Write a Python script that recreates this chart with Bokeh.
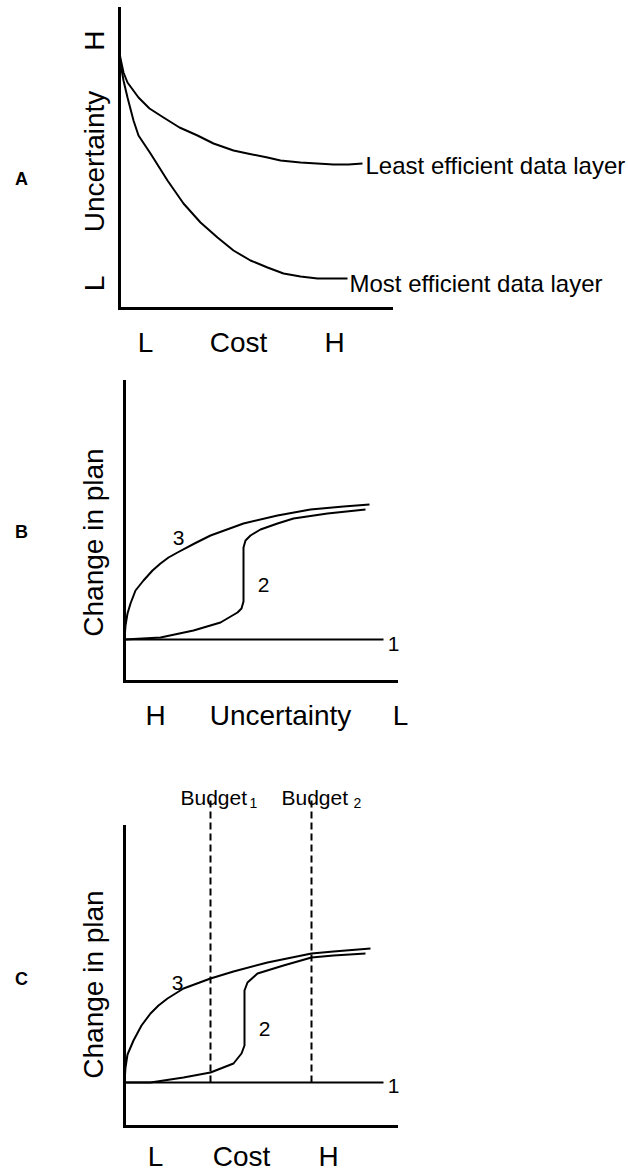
from bokeh.plotting import figure
from bokeh.layouts import column
from bokeh.models import Range1d, LinearAxis, FixedTicker, ColumnDataSource
from bokeh.core.properties import value
from bokeh.embed import file_html
from bokeh.resources import INLINE

FONT = "Liberation Sans"

# ---------------- Panel A : Uncertainty vs Cost ----------------
a_x_ticks = [26, 119, 215]
a_x_labels = ["L", "Cost", "H"]
a_y_ticks = [25, 147, 268]
a_y_labels = ["L", "Uncertainty", "H"]
a_axis_len = (272, 300)

least_x = [0, 1, 4, 8, 19, 30, 44, 60, 78, 94, 114, 128, 148, 161, 181, 214, 229, 243]
least_y = [255, 250, 236, 226, 211, 200, 191, 181, 173, 165, 158, 155, 151, 148, 146, 144, 144, 145]
most_x = [0, 1, 4, 8, 14, 19, 31, 48, 64, 81, 98, 114, 131, 148, 164, 181, 198, 228]
most_y = [255, 245, 228, 211, 188, 173, 155, 128, 105, 86, 71, 58, 48, 41, 35, 32, 30, 30]
a_note_text = ["Least efficient data layer", "Most efficient data layer"]
a_note_x = [246, 230]
a_note_y = [143, 25]

# ---------------- Panel B : Change in plan vs Uncertainty ----------------
b_x_ticks = [31, 156, 276]
b_x_labels = ["H", "Uncertainty", "L"]
b_y_ticks = [139]
b_y_labels = ["Change in plan"]
b_axis_len = (272, 300)

b1_x = [0, 259]
b1_y = [42, 42]
b2_x = [0, 36, 69, 96, 113, 117, 119, 119, 121, 126, 136, 153, 169, 203, 241]
b2_y = [42, 44, 51, 59, 69, 73, 80, 134, 141, 146, 152, 158, 163, 168, 172]
b3_x = [0, 1, 3, 6, 11, 19, 28, 36, 44, 53, 70, 86, 119, 153, 186, 219, 245]
b3_y = [42, 56, 68, 78, 91, 101, 111, 118, 124, 129, 138, 146, 158, 166, 172, 175, 177]
b_num_text = ["3", "2", "1"]
b_num_x = [54, 139, 269]
b_num_y = [144, 97, 38]

# ---------------- Panel C : Change in plan vs Cost ----------------
c_x_ticks = [31, 117, 204]
c_x_labels = ["L", "Cost", "H"]
c_y_ticks = [142]
c_y_labels = ["Change in plan"]
c_axis_len = (272, 300)

c1_x = [0, 259]
c1_y = [44, 44]
c2_x = [0, 26, 59, 86, 109, 117, 120, 120, 123, 133, 159, 187, 209, 241]
c2_y = [44, 44, 49, 54, 63, 73, 81, 136, 144, 153, 161, 169, 171, 173]
c3_x = [0, 1, 3, 9, 17, 26, 34, 43, 59, 86, 109, 143, 187, 209, 246]
c3_y = [44, 59, 72, 86, 101, 113, 121, 128, 138, 148, 155, 164, 173, 175, 178]
c_num_text = ["3", "2", "1"]
c_num_x = [53, 140, 269]
c_num_y = [144, 98, 41]
budget_x = [86, 187]
budget_bottom = [44, 44]
budget_top = [326, 326]
budget_text = ["Budget", "Budget"]
budget_text_x = [56, 157]
budget_text_y = [329, 329]
budget_sub = ["1", "2"]
budget_sub_x = [129, 233]
budget_sub_y = [324, 324]

panel_letters = ["A", "B", "C"]
panel_letter_x = [-98, -103, -103]
panel_letter_y = [130, 150, 148]


def make_fig(height, xr, yr):
    p = figure(width=628, height=height, x_range=Range1d(*xr), y_range=Range1d(*yr),
               output_backend="svg", toolbar_location=None,
               x_axis_type=None, y_axis_type=None, min_border=0,
               outline_line_color=None, background_fill_color="white",
               border_fill_color="white")
    return p


def add_axes(p, axis_len, xticks, xlabels, yticks, ylabels, x_standoff, y_standoff):
    xa = LinearAxis(fixed_location=0, bounds=(0, axis_len[0]),
                    ticker=FixedTicker(ticks=xticks, minor_ticks=[]),
                    major_label_overrides=dict(zip(xticks, xlabels)))
    ya = LinearAxis(fixed_location=0, bounds=(0, axis_len[1]),
                    ticker=FixedTicker(ticks=yticks, minor_ticks=[]),
                    major_label_overrides=dict(zip(yticks, ylabels)),
                    major_label_orientation="vertical")
    for ax, so in ((xa, x_standoff), (ya, y_standoff)):
        ax.axis_line_width = 3
        ax.axis_line_color = "black"
        ax.axis_line_cap = "square"
        ax.major_tick_line_color = None
        ax.minor_tick_line_color = None
        ax.major_tick_out = 0
        ax.major_tick_in = 0
        ax.minor_tick_out = 0
        ax.minor_tick_in = 0
        ax.major_label_text_font = FONT
        ax.major_label_text_font_size = "28px"
        ax.major_label_text_color = "black"
        ax.major_label_standoff = so
    p.add_layout(xa, "below")
    p.add_layout(ya, "left")


def add_text(p, xs, ys, texts, size, align="left", bold=False, baseline="alphabetic"):
    src = ColumnDataSource(dict(x=xs, y=ys, t=texts))
    p.text(x="x", y="y", text="t", source=src, text_font=value(FONT),
           text_font_size=size, text_align=align, text_baseline=baseline,
           text_color="black", text_font_style="bold" if bold else "normal")


# Panel A
pa = make_fig(378, (-119, 509), (-70, 308))
add_axes(pa, a_axis_len, a_x_ticks, a_x_labels, a_y_ticks, a_y_labels, 18, 10)
pa.line(least_x, least_y, line_width=2, line_color="black", line_join="round")
pa.line(most_x, most_y, line_width=2, line_color="black", line_join="round")
add_text(pa, a_note_x, a_note_y, a_note_text, "24px")
add_text(pa, panel_letter_x[:1], panel_letter_y[:1], panel_letters[:1], "18px",
         align="center", bold=True, baseline="middle")

# Panel B
pb = make_fig(370, (-124, 504), (-67, 303))
add_axes(pb, b_axis_len, b_x_ticks, b_x_labels, b_y_ticks, b_y_labels, 18, 16)
pb.line(b1_x, b1_y, line_width=2, line_color="black")
pb.line(b2_x, b2_y, line_width=2, line_color="black", line_join="round")
pb.line(b3_x, b3_y, line_width=2, line_color="black", line_join="round")
add_text(pb, b_num_x, b_num_y, b_num_text, "21px", align="center")
add_text(pb, panel_letter_x[1:2], panel_letter_y[1:2], panel_letters[1:2], "18px",
         align="center", bold=True, baseline="middle")

# Panel C
pc = make_fig(425, (-124, 504), (-47, 378))
add_axes(pc, c_axis_len, c_x_ticks, c_x_labels, c_y_ticks, c_y_labels, 14, 16)
pc.segment(x0=budget_x, y0=budget_bottom, x1=budget_x, y1=budget_top,
           line_width=2, line_color="black", line_dash="7 4")
pc.line(c1_x, c1_y, line_width=2, line_color="black")
pc.line(c2_x, c2_y, line_width=2, line_color="black", line_join="round")
pc.line(c3_x, c3_y, line_width=2, line_color="black", line_join="round")
add_text(pc, c_num_x, c_num_y, c_num_text, "21px", align="center")
add_text(pc, budget_text_x, budget_text_y, budget_text, "21px")
add_text(pc, budget_sub_x, budget_sub_y, budget_sub, "14px", align="center")
add_text(pc, panel_letter_x[2:], panel_letter_y[2:], panel_letters[2:], "18px",
         align="center", bold=True, baseline="middle")

layout = column(pa, pb, pc, spacing=0)
open("out.html", "w").write(file_html(layout, INLINE))
